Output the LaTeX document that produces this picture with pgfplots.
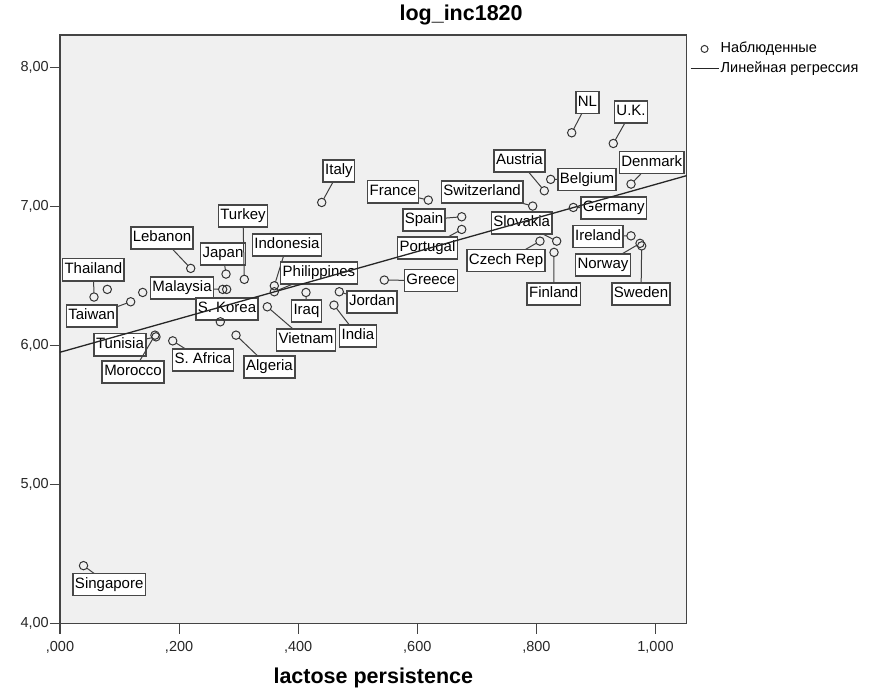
\documentclass[border=0pt]{standalone}
\usepackage{fontspec}
\setmainfont{Liberation Sans}
\usepackage{pgfplots}
\pgfplotsset{compat=1.18}

\definecolor{bgcol}{HTML}{F0F0F0}
\definecolor{framecol}{HTML}{444444}

% label box + connector from the point (#1,#2) to the box centre (#3,#4)
\newcommand{\lab}[5]{%
  \draw[conn] (axis cs:#1,#2) -- (axis cs:#3,#4);
  \node[lbl] at (axis cs:#3,#4) {#5};}

\begin{document}
\begin{tikzpicture}[
  lbl/.style={draw=black!72, line width=1.5bp, fill=white,
    font=\fontsize{15bp}{17bp}\selectfont, inner xsep=2bp, inner ysep=4.3bp,
    text height=10.5bp, text depth=3bp},
  conn/.style={black!75, line width=1bp, shorten <=4.2bp}]
\useasboundingbox (0,0) rectangle (887bp,689bp);
\begin{axis}[
    at={(60bp,65.5bp)}, anchor=south west,
    scale only axis, width=626.7bp, height=588.5bp,
    xmin=0, xmax=1.0524, ymin=4, ymax=8.231,
    clip=false,
    axis background/.style={fill=bgcol},
    axis line style={framecol, line width=1.3bp},
    tick style={framecol, line width=1.2bp},
    tick align=outside, major tick length=10bp,
    xtick={0,0.2,0.4,0.6,0.8,1},
    xticklabels={{,000},{,200},{,400},{,600},{,800},{1,000}},
    ytick={4,5,6,7,8},
    yticklabels={{4,00},{5,00},{6,00},{7,00},{8,00}},
    xtick pos=bottom, ytick pos=left,
    ticklabel style={font=\fontsize{14.5bp}{17bp}\selectfont, text=black!85},
    xticklabel style={yshift=-4bp},
    yticklabel style={inner sep=1bp},
    title={log\_inc1820},
    title style={font=\fontsize{21.5bp}{25bp}\selectfont\bfseries,
      at={(0.64,1)}, anchor=base, yshift=9bp},
    xlabel={lactose persistence},
    xlabel style={font=\fontsize{21.5bp}{25bp}\selectfont\bfseries,
      at={(0.5,0)}, anchor=base, yshift=-60bp},
    legend style={at={(1,1)}, anchor=north west, draw=none, fill=none,
      font=\fontsize{14.5bp}{16bp}\selectfont, inner sep=0pt, row sep=3bp,
      nodes={inner sep=1.5bp, text height=10.5bp, text depth=3bp},
      xshift=3bp, yshift=-5.5bp},
    legend cell align=left,
    legend image code/.code={\draw[mark repeat=2,mark phase=2,#1]
      plot coordinates {(0bp,0bp) (14bp,0bp) (28bp,0bp)};},
]

% labels
\lab{0.0395}{4.416}{0.0826}{4.280}{Singapore}
\lab{0.0571}{6.347}{0.0560}{6.543}{Thailand}
\lab{0.1187}{6.313}{0.0532}{6.211}{Taiwan}
\lab{0.1612}{6.061}{0.1008}{6.004}{Tunisia}
\lab{0.1595}{6.073}{0.1226}{5.807}{Morocco}
\lab{0.1893}{6.032}{0.2401}{5.894}{S. Africa}
\lab{0.2195}{6.553}{0.1713}{6.771}{Lebanon}
\lab{0.2732}{6.402}{0.2049}{6.411}{Malaysia}
\lab{0.2788}{6.512}{0.2737}{6.656}{Japan}
\lab{0.3095}{6.474}{0.3073}{6.929}{Turkey}
\lab{0.2692}{6.169}{0.2804}{6.262}{S. Korea}
\lab{0.2956}{6.073}{0.3518}{5.843}{Algeria}
\lab{0.3481}{6.277}{0.4131}{6.037}{Vietnam}
\lab{0.3599}{6.428}{0.3812}{6.722}{Indonesia}
\lab{0.3599}{6.385}{0.4349}{6.519}{Philippines}
\lab{0.4131}{6.380}{0.4139}{6.246}{Iraq}
\lab{0.4601}{6.289}{0.5004}{6.066}{India}
\lab{0.4690}{6.385}{0.5239}{6.311}{Jordan}
\lab{0.5446}{6.469}{0.6230}{6.465}{Greece}
\lab{0.4395}{7.027}{0.4685}{7.252}{Italy}
\lab{0.6185}{7.044}{0.5592}{7.104}{France}
\lab{0.6746}{6.924}{0.6113}{6.902}{Spain}
\lab{0.6746}{6.833}{0.6171}{6.699}{Portugal}
\lab{0.7938}{7.001}{0.7087}{7.101}{Switzerland}
\lab{0.8133}{7.111}{0.7716}{7.324}{Austria}
\lab{0.8240}{7.193}{0.8850}{7.191}{Belgium}
\lab{0.8593}{7.528}{0.8858}{7.745}{NL}
\lab{0.9291}{7.451}{0.9589}{7.676}{U.K.}
\lab{0.9589}{7.159}{0.9936}{7.313}{Denmark}
\lab{0.8620}{6.991}{0.9300}{6.986}{Germany}
\lab{0.8341}{6.749}{0.7753}{6.879}{Slovakia}
\lab{0.8060}{6.749}{0.7490}{6.609}{Czech Rep}
\lab{0.8296}{6.668}{0.8291}{6.368}{Finland}
\lab{0.9589}{6.787}{0.9035}{6.783}{Ireland}
\lab{0.9740}{6.733}{0.9118}{6.577}{Norway}
\lab{0.9768}{6.715}{0.9757}{6.368}{Sweden}

% observed values
\addplot[only marks, mark=o, mark size=4.2bp,
  mark options={draw=black!80, line width=1bp},
  legend image post style={mark size=3.5bp}] coordinates {
 (0.0395,4.416) (0.0571,6.347) (0.0794,6.402) (0.1187,6.313) (0.1389,6.380)
 (0.1612,6.061) (0.1595,6.073) (0.1893,6.032) (0.2195,6.553) (0.2692,6.169)
 (0.2732,6.402) (0.2799,6.402) (0.2788,6.512) (0.2956,6.073) (0.3095,6.474)
 (0.3481,6.277) (0.3599,6.428) (0.3599,6.385) (0.4131,6.380) (0.4395,7.027)
 (0.4601,6.289) (0.4690,6.385) (0.5446,6.469) (0.6185,7.044) (0.6746,6.924)
 (0.6746,6.833) (0.7938,7.001) (0.8060,6.749) (0.8133,7.111) (0.8240,7.193)
 (0.8296,6.668) (0.8341,6.749) (0.8593,7.528) (0.8620,6.991) (0.9291,7.451)
 (0.9589,7.159) (0.9589,6.787) (0.9740,6.733) (0.9768,6.715)
};
\addlegendentry{Наблюденные}

% fitted line
\addplot[black!85, line width=1.3bp] coordinates {(0,5.95) (1.0524,7.22)};
\addlegendentry{Линейная регрессия}

\end{axis}
\end{tikzpicture}
\end{document}
